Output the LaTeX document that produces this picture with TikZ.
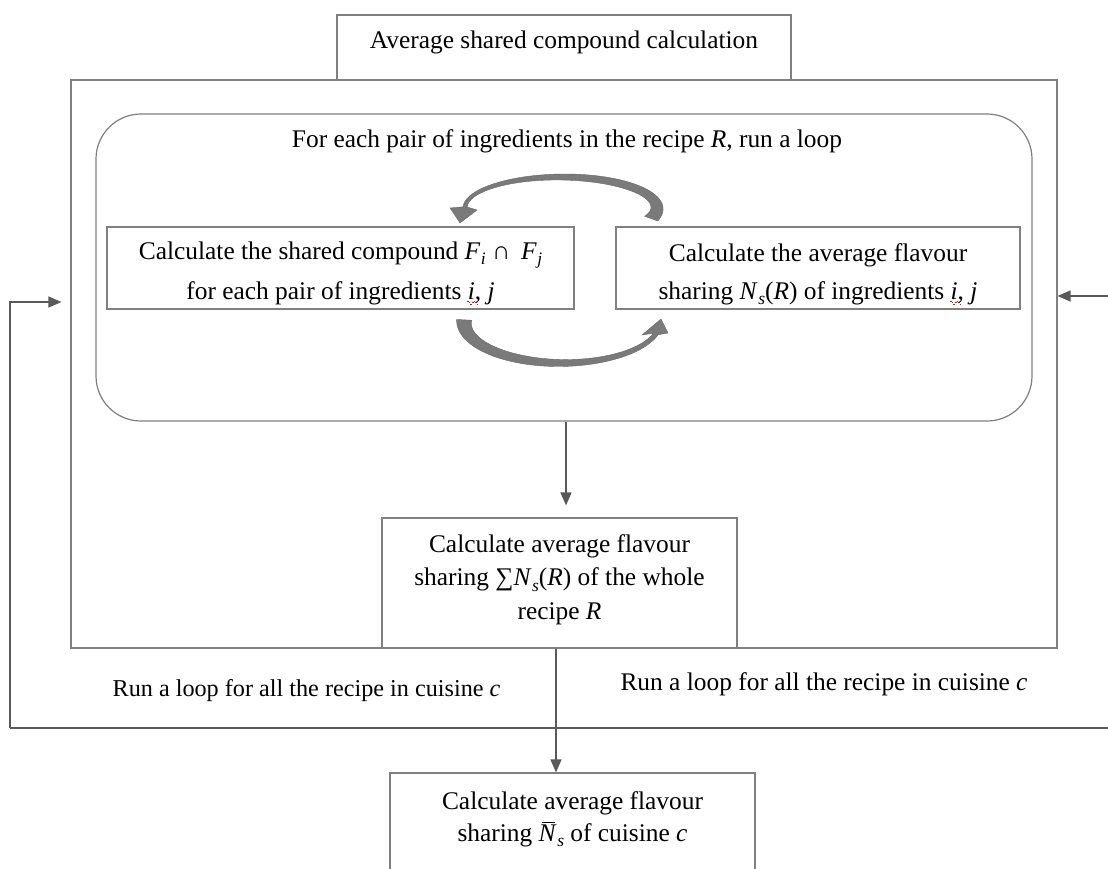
\documentclass[tikz,border=0pt]{standalone}
\usepackage{fontspec}
\setmainfont{Liberation Serif}
\usetikzlibrary{arrows.meta,calc}

\definecolor{boxgray}{HTML}{808080}
\definecolor{conngray}{HTML}{595959}
\definecolor{bendgray}{HTML}{7A7A7A}

% italic variables and lowered subscripts, set in the text font
\newcommand\mi[1]{\textit{#1}}
\newcommand\sub[1]{\kern0.5pt\raisebox{-0.22em}{\fontsize{17.5}{17.5}\selectfont\itshape #1}}
\newcommand\barN{\leavevmode\rlap{\kern3pt\rule[18pt]{13.5pt}{1pt}}\mi{N}}
% red wavy underline of a flagged word, built from short rules
\newcommand\wv[1]{\rule[#1]{1.6pt}{1pt}}
\newcommand\spellwave[1]{\leavevmode\rlap{\color{red}\kern-0.5pt\wv{-3pt}\wv{-4.3pt}\wv{-5.6pt}\wv{-4.3pt}\wv{-3pt}\wv{-4.3pt}\wv{-5.6pt}}#1}

\begin{document}
\begin{tikzpicture}[x=1pt,y=-1pt,
  box/.style={draw=boxgray, line width=1.2pt, inner sep=0pt},
  txt/.style={align=center, inner sep=0pt, font=\fontsize{25.4}{40}\selectfont},
  conn/.style={draw=conngray, line width=1.3pt},
  tipped/.style={-{Triangle[length=13pt,width=11pt]}},
  curvedarrow/.style={fill=bendgray, draw=black!60, line width=0.4pt}]

\useasboundingbox (0,0) rectangle (1108,868);
\fill[white] (0,0) rectangle (1108,868);
\clip (0,0) rectangle (1108,868);

% frames
\node[box, minimum width=986pt, minimum height=568pt] (outer) at (564,364) {};
\node[box, minimum width=454pt, minimum height=65pt] (title) at (564,47.5) {};
\node[txt] (titletext) at (564,42.5) {Average shared compound calculation};

\node[box, rounded corners=45pt, minimum width=936pt, minimum height=307pt] (round) at (564,267.5) {};
\node[txt] (looptext) at (567,141) {For each pair of ingredients in the recipe \mi{R}, run a loop};

% the two steps of the inner loop
\node[box, minimum width=467pt, minimum height=82pt] (shared) at (340.5,268) {};
\node[txt] (sharedtext) at (340.5,273)
  {Calculate the shared compound \mi{F}\sub{i} ∩ \,\mi{F}\sub{j}\\
   for each pair of ingredients \spellwave{\mi{i}}, \mi{j}};
\node[box, minimum width=404pt, minimum height=82pt] (pairavg) at (818,268) {};
\node[txt, font=\fontsize{25.4}{38}\selectfont] (pairavgtext) at (818,274)
  {Calculate the average flavour\\
   sharing \mi{N}\sub{s}(\mi{R}) of ingredients \spellwave{\mi{i}}, \mi{j}};

% recipe and cuisine results
\node[box, minimum width=355pt, minimum height=130pt] (mid) at (559.5,583) {};
\node[txt, font=\fontsize{25.4}{33.5}\selectfont] (midtext) at (559.5,579.5)
  {Calculate average flavour\\ sharing ∑\mi{N}\sub{s}(\mi{R}) of the whole\\ recipe \mi{R}};

\node[box, minimum width=365pt, minimum height=110pt] (bot) at (572.5,828) {};
\node[txt, font=\fontsize{25.4}{32}\selectfont] (bottext) at (572.5,819)
  {Calculate average flavour\\ sharing \barN\sub{s} of cuisine \mi{c}};

% outer loop labels
\node[txt, font=\fontsize{24.2}{30}\selectfont] (labL) at (306.5,690.5) {Run a loop for all the recipe in cuisine \mi{c}};
\node[txt] (labR) at (824,684.5) {Run a loop for all the recipe in cuisine \mi{c}};

% curved arrows of the inner loop: a band thinning from tail to head
\fill[curvedarrow] plot[domain=-20:178,samples=70]
    ({561+(96+2+5*((178-\x)/198)^2)*cos(\x)},{208-(31+2+5*((178-\x)/198)^2)*sin(\x)})
  -- (450,208) -- (460,223) -- (477,210)
  -- plot[domain=178:-20,samples=70]
    ({561+(96-2-5*((178-\x)/198)^2)*cos(\x)},{208-(31-2-5*((178-\x)/198)^2)*sin(\x)})
  -- cycle;
\fill[curvedarrow] plot[domain=177:343,samples=70]
    ({562+(98+2.5+5*((343-\x)/166)^2)*cos(\x)},{322-(41+2.5+5*((343-\x)/166)^2)*sin(\x)})
  -- (668,333) -- (661,319) -- (642,335)
  -- plot[domain=343:177,samples=70]
    ({562+(98-2.5-5*((343-\x)/166)^2)*cos(\x)},{322-(41-2.5-5*((343-\x)/166)^2)*sin(\x)})
  -- cycle;

% connectors
\draw[conn, tipped, shorten >=12pt] ($(round.south)+(2,0)$) -- ($(round.south |- mid.north)+(2,0)$);
\draw[conn, tipped] ($(mid.south)+(-3.5,0)$) -- ($(mid.south |- bot.north)+(-3.5,0)$);

\coordinate (loopL) at (10,728);
\coordinate (loopR) at (1108,728);
\coordinate (inR) at (1108,296);
\draw[conn] (loopL) -- (loopR);
\draw[conn, tipped, shorten >=9pt] (loopL) |- (outer.west |- 0,302);
\draw[conn, tipped] (inR) -- (inR -| outer.east);

\end{tikzpicture}
\end{document}
